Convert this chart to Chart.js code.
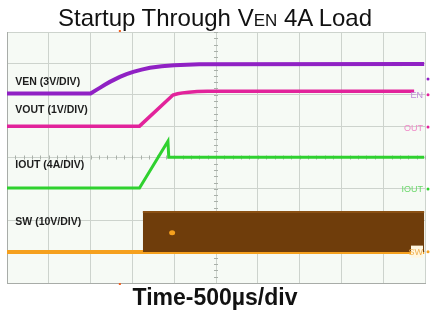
<!DOCTYPE html>
<html>
<head>
<meta charset="utf-8">
<script src="https://cdn.jsdelivr.net/npm/chart.js@4/dist/chart.umd.min.js"></script>
<style>
  html, body { margin: 0; padding: 0; background: #ffffff; }
  #wrap { position: relative; width: 430px; height: 310px; overflow: hidden; }
  #title { position: absolute; left: 0; top: 4px; width: 430px; text-align: center;
           font-family: "Liberation Sans", Arial, sans-serif; font-size: 24px; color: #111; line-height: 28px; }
  #title .sc { font-size: 17px; }
  #xtitle { position: absolute; left: 0; top: 283px; width: 430px; text-align: center;
            font-family: "Liberation Sans", Arial, sans-serif; font-size: 23px; font-weight: bold; color: #111; line-height: 28px; }
  canvas { position: absolute; left: 0; top: 0; }
</style>
</head>
<body>
<div id="wrap">
  <canvas id="c" width="430" height="310"></canvas>
  <div id="title">Startup Through V<span class="sc">EN</span> 4A Load</div>
  <div id="xtitle">Time-500µs/div</div>
</div>
<script>
// time axis in divisions (500 µs/div), vertical axis in screen divisions
const venTime  = [0, 2.0, 2.12, 2.22, 2.34, 2.46, 2.58, 2.70, 2.86, 3.02, 3.22, 3.42, 3.7, 4.0, 4.6, 9.98];
const venDiv   = [6.04, 6.04, 6.14, 6.22, 6.32, 6.41, 6.49, 6.57, 6.66, 6.73, 6.80, 6.86, 6.91, 6.94, 6.97, 6.98];
const voutTime = [0, 3.17, 3.97, 4.08, 4.2, 4.35, 4.55, 4.8, 5.1, 9.74];
const voutDiv  = [5.0, 5.0, 5.99, 6.03, 6.06, 6.08, 6.10, 6.11, 6.11, 6.11];
const ioutTime = [0, 3.17, 3.85, 3.87, 9.98];
const ioutDiv  = [3.03, 3.03, 4.52, 4.01, 4.01];
const swBaseTime = [0, 9.98];
const swBaseDiv  = [0.99, 0.99];
const swBurstTime = [3.25, 9.98];
const swBurstDiv  = [2.26, 2.26];
const traceLabels = ["VEN (3V/DIV)", "VOUT (1V/DIV)", "IOUT (4A/DIV)", "SW (10V/DIV)"];
const traceLabelLevel = [6.43, 5.55, 3.78, 1.97];
const groundNames = ["EN", "OUT", "IOUT", "SW"];
const groundLevel = [6.0, 4.97, 3.0, 1.0];

function pts(xs, ys) { return xs.map((x, i) => ({ x: x, y: ys[i] })); }

const PURPLE = '#9021c4', PINK = '#e2239b', GREEN = '#2fd12f', ORANGE = '#f5a01e', BROWN = '#6f3d0b';

const decor = {
  id: 'decor',
  beforeDraw(chart) {
    const { ctx, chartArea: a } = chart;
    ctx.save();
    ctx.fillStyle = '#f6faf5';
    ctx.fillRect(a.left, a.top, a.right - a.left, a.bottom - a.top);
    ctx.restore();
  },
  beforeDatasetsDraw(chart) {
    const { ctx, scales: { x, y } } = chart;
    ctx.save();
    ctx.strokeStyle = '#a9b0a9';
    ctx.lineWidth = 1;
    const cx = x.getPixelForValue(5), cy = y.getPixelForValue(4);
    for (let v = 0; v <= 10.001; v += 0.2) {
      const px = Math.round(x.getPixelForValue(v)) + 0.5;
      ctx.beginPath(); ctx.moveTo(px, cy - 2); ctx.lineTo(px, cy + 2); ctx.stroke();
    }
    for (let v = 0; v <= 8.001; v += 0.2) {
      const py = Math.round(y.getPixelForValue(v)) + 0.5;
      ctx.beginPath(); ctx.moveTo(cx - 2, py); ctx.lineTo(cx + 2, py); ctx.stroke();
    }
    ctx.restore();
  },
  afterDatasetsDraw(chart) {
    const { ctx, scales: { x, y }, chartArea: a } = chart;
    ctx.save();
    // trace labels
    ctx.font = 'bold 10.5px "Liberation Sans", Arial, sans-serif';
    ctx.fillStyle = '#1d1d1d';
    ctx.textBaseline = 'alphabetic';
    traceLabels.forEach((t, i) => {
      ctx.fillText(t, x.getPixelForValue(0.2), y.getPixelForValue(traceLabelLevel[i]) + 4);
    });
    // ground markers
    const cols = ['#c08ad8', '#ef86c6', '#6ad86a', '#f0b050'];
    const dots = [PINK, PINK, GREEN, ORANGE];
    ctx.font = '9px "Liberation Sans", Arial, sans-serif';
    ctx.textAlign = 'right';
    ctx.textBaseline = 'middle';
    groundNames.forEach((g, i) => {
      const py = y.getPixelForValue(groundLevel[i]);
      if (i === 3) {
        ctx.fillStyle = '#fff6e0';
        ctx.fillRect(a.right - 14, py - 6, 12, 12);
      }
      ctx.fillStyle = cols[i];
      ctx.fillText(g, a.right - 2, py + 1);
      ctx.fillStyle = dots[i];
      ctx.beginPath(); ctx.arc(a.right + 3, py, 1.5, 0, Math.PI * 2); ctx.fill();
    });
    ctx.fillStyle = PURPLE;
    ctx.beginPath(); ctx.arc(a.right + 3, y.getPixelForValue(6.5), 1.5, 0, Math.PI * 2); ctx.fill();
    // trigger markers
    ctx.fillStyle = '#f06020';
    const tx = x.getPixelForValue(2.7);
    ctx.fillRect(tx - 1, a.top - 2, 2, 2);
    ctx.fillRect(tx - 1, a.bottom, 2, 2);
    // cursor blob on SW burst
    ctx.fillStyle = ORANGE;
    ctx.beginPath(); ctx.ellipse(x.getPixelForValue(3.95), y.getPixelForValue(1.6), 3, 2.5, 0, 0, Math.PI * 2); ctx.fill();
    ctx.restore();
  }
};

new Chart(document.getElementById('c'), {
  type: 'line',
  data: {
    datasets: [
      { data: pts(swBurstTime, swBurstDiv), borderColor: '#8a5014', borderWidth: 2,
        backgroundColor: BROWN, fill: { value: 0.99 }, pointRadius: 0, tension: 0 },
      { data: pts(swBaseTime, swBaseDiv), borderColor: ORANGE, borderWidth: 4, pointRadius: 0, tension: 0, fill: false },
      { data: pts(ioutTime, ioutDiv), borderColor: GREEN, borderWidth: 3, pointRadius: 0, tension: 0, fill: false },
      { data: pts(voutTime, voutDiv), borderColor: PINK, borderWidth: 3.5, pointRadius: 0, tension: 0, fill: false },
      { data: pts(venTime, venDiv), borderColor: PURPLE, borderWidth: 4, pointRadius: 0, tension: 0, fill: false }
    ]
  },
  options: {
    responsive: false,
    animation: false,
    layout: { padding: { left: 7, top: 32, right: 5, bottom: 27 } },
    plugins: { legend: { display: false }, tooltip: { enabled: false }, title: { display: false } },
    scales: {
      x: { type: 'linear', min: 0, max: 10,
           ticks: { display: false, stepSize: 1 },
           grid: { color: '#cdd3cd', drawTicks: false, lineWidth: 1 },
           border: { display: true, color: '#a8aca8' } },
      y: { type: 'linear', min: 0, max: 8,
           ticks: { display: false, stepSize: 1 },
           grid: { color: '#cdd3cd', drawTicks: false, lineWidth: 1 },
           border: { display: true, color: '#a8aca8' } }
    }
  },
  plugins: [decor]
});
</script>
</body>
</html>
